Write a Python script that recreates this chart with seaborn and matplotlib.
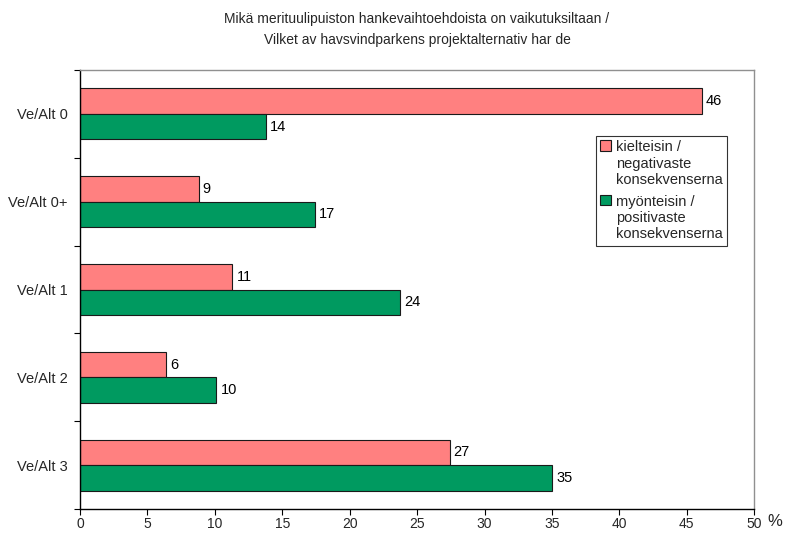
import matplotlib
matplotlib.use("Agg")
import matplotlib.pyplot as plt
import seaborn as sns
import pandas as pd
from matplotlib.ticker import FixedLocator

# Survey answers per project alternative (share of respondents, %)
categories = ["Ve/Alt 0", "Ve/Alt 0+", "Ve/Alt 1", "Ve/Alt 2", "Ve/Alt 3"]
negative = [46.1, 8.8, 11.3, 6.4, 27.4]
positive = [13.8, 17.4, 23.7, 10.1, 35.0]
series_names = ["kielteisin /\nnegativaste\nkonsekvenserna",
                "myönteisin /\npositivaste\nkonsekvenserna"]
series_colors = ["#FF8080", "#009A60"]
x_ticks = list(range(0, 51, 5))
title = ("Mikä merituulipuiston hankevaihtoehdoista on vaikutuksiltaan /\n"
         "Vilket av havsvindparkens projektalternativ har de")

df = pd.DataFrame({
    "alt": categories * 2,
    "value": negative + positive,
    "series": [series_names[0]] * len(categories) + [series_names[1]] * len(categories),
})

sns.set_theme(style="white")
plt.rcParams["font.family"] = ["Liberation Sans", "DejaVu Sans"]

fig = plt.figure(figsize=(7.89, 5.39), dpi=100)
ax = fig.add_axes([80 / 789, 1 - 509 / 539, (754.3 - 80) / 789, 439 / 539])

sns.barplot(data=df, x="value", y="alt", hue="series", order=categories,
            hue_order=series_names, palette=series_colors, orient="h",
            width=0.58, edgecolor="#1a1a1a", linewidth=0.8, ax=ax,
            saturation=1)

for cont in ax.containers:
    ax.bar_label(cont, fmt="{:.0f}", padding=3, fontsize=10.5, color="black")

ax.set_xlim(0, 50)
ax.set_ylim(len(categories) - 0.5, -0.5)
ax.set_xticks(x_ticks)
ax.set_xticklabels([str(t) for t in x_ticks], fontsize=10)
ax.set_xlabel("")
ax.set_ylabel("")
ax.tick_params(axis="x", direction="out", length=4, width=0.8, color="black",
               bottom=True, pad=2)
ax.tick_params(axis="y", which="major", length=0, pad=9, labelsize=10.5)
ax.yaxis.set_minor_locator(FixedLocator([i - 0.5 for i in range(len(categories) + 1)]))
ax.tick_params(axis="y", which="minor", direction="out", length=4, width=0.8,
               color="black", left=True)
for side in ("left", "bottom"):
    ax.spines[side].set_color("black")
    ax.spines[side].set_linewidth(1.0)
for side in ("top", "right"):
    ax.spines[side].set_visible(True)
    ax.spines[side].set_color("#909090")
    ax.spines[side].set_linewidth(1.0)

ax.text((775 - 80) / 674.3, (509 - 522) / 439, "%", transform=ax.transAxes,
        fontsize=12, ha="center", va="center")

fig.text(417 / 789, 1 - 12 / 539, title, ha="center", va="top",
         fontsize=10, linespacing=1.6)

leg = ax.legend(loc="upper left", bbox_to_anchor=(596 / 789, 1 - 136 / 539),
                bbox_transform=fig.transFigure, frameon=True, fancybox=False,
                edgecolor="black", fontsize=10.5, handlelength=0.75,
                handleheight=0.75, handletextpad=0.3, labelspacing=0.5,
                borderpad=0.3, borderaxespad=0)
leg.get_frame().set_linewidth(0.8)
for t in leg.get_texts():
    t.set_linespacing(1.22)
for h in leg.legend_handles:
    h.set_edgecolor("#1a1a1a")
    h.set_linewidth(0.8)
# put each colour square next to the first line of its label
for col in leg._legend_handle_box.get_children():
    for row in col.get_children():
        row.align = "top"

fig.savefig("out.png", dpi=100)
